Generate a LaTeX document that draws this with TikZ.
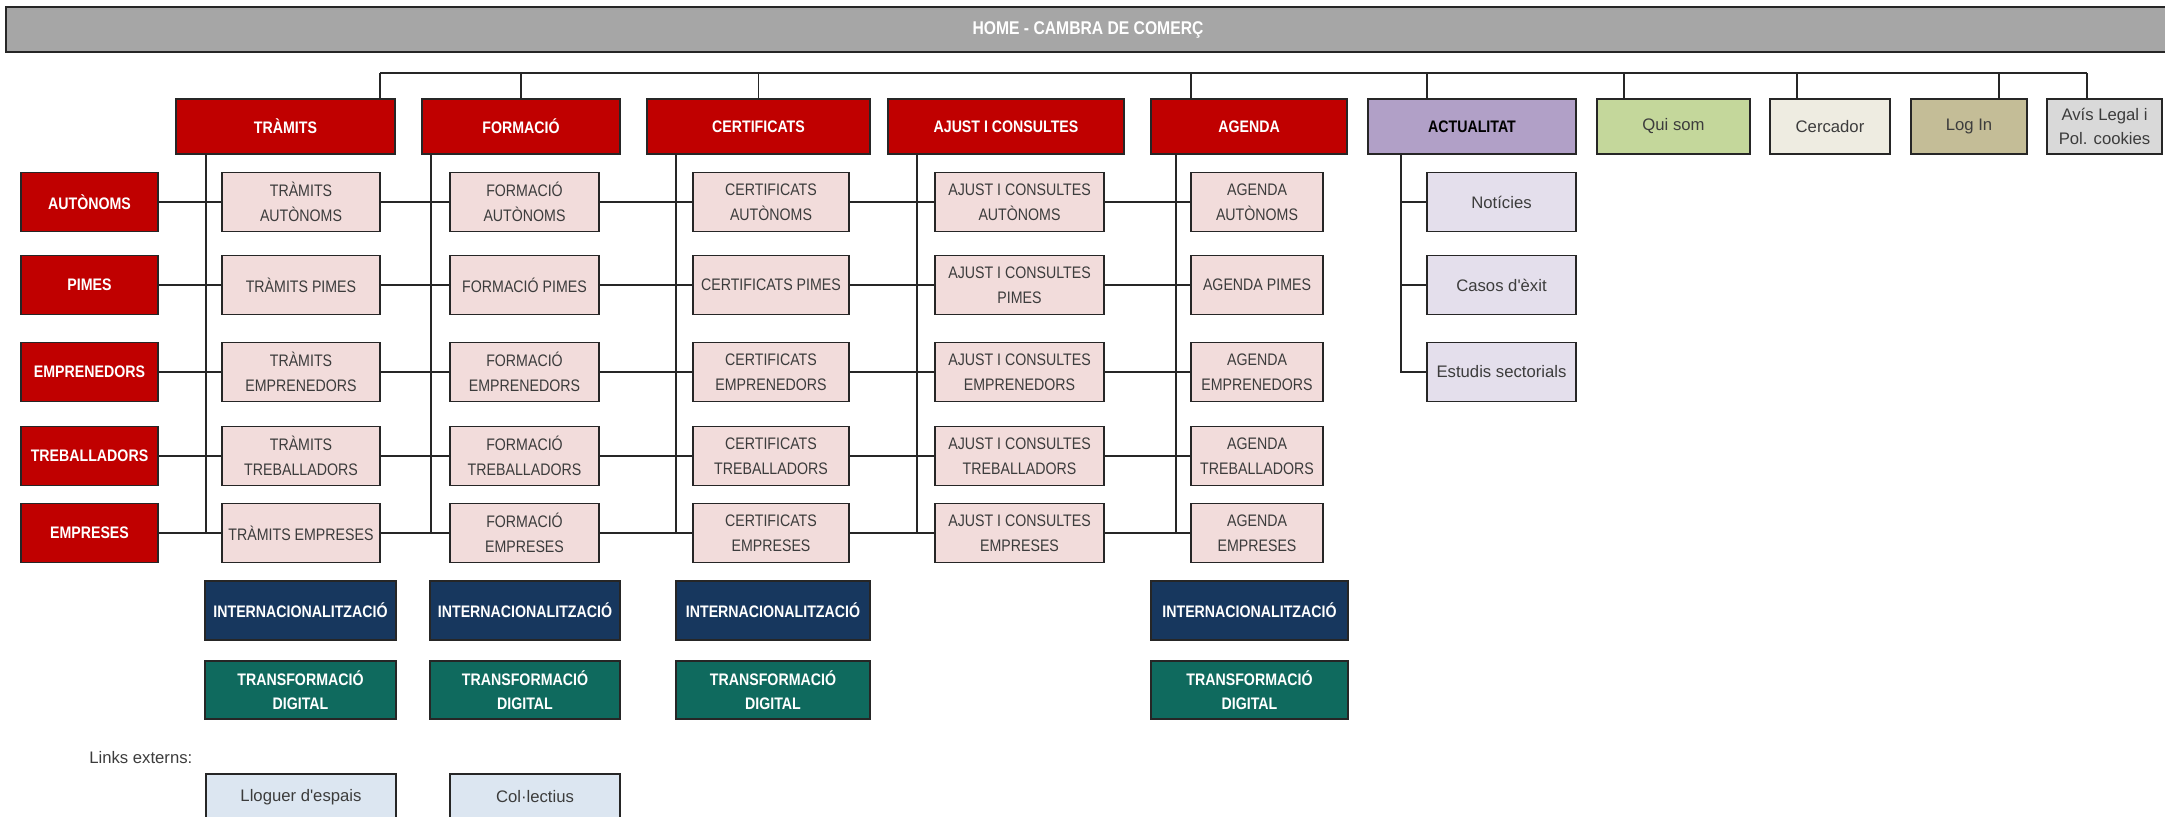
\documentclass[tikz,border=0pt]{standalone}
\usepackage{fontspec}
\setmainfont[FakeStretch=0.85]{Liberation Sans}
\newfontfamily\plainfont{Liberation Sans}
\usetikzlibrary{positioning}

\definecolor{hdrgray}{HTML}{A6A6A6}
\definecolor{camred}{HTML}{C00000}
\definecolor{subpink}{HTML}{F2DCDB}
\definecolor{actpurple}{HTML}{B1A0C7}
\definecolor{actlav}{HTML}{E4DFEC}
\definecolor{quigreen}{HTML}{C4D79B}
\definecolor{cercream}{HTML}{EEECE1}
\definecolor{loginkhaki}{HTML}{C4BD97}
\definecolor{avisgray}{HTML}{D9D9D9}
\definecolor{intnavy}{HTML}{17375E}
\definecolor{digteal}{HTML}{0F6A5E}
\definecolor{extblue}{HTML}{DCE6F1}
\definecolor{txtgray}{HTML}{3C3C3C}

\begin{document}
\begin{tikzpicture}[x=0.02cm, y=-0.02cm,
  cell/.style={draw=black!85, line width=1pt, inner sep=2pt, align=center, font=\fontsize{9.5}{14}\selectfont},
  boldcell/.style={cell, text=white, font=\fontsize{9.5}{14}\selectfont\bfseries},
  topbox/.style={boldcell, fill=camred, minimum height=1.1cm},
  rowbox/.style={boldcell, fill=camred, minimum width=2.74cm, minimum height=1.18cm},
  menubox/.style={cell, text=txtgray, font=\plainfont\fontsize{9.5}{14}\selectfont, minimum height=1.1cm},
  subbox/.style={cell, fill=subpink, text=txtgray, minimum height=1.18cm},
  colt/.style={subbox, minimum width=3.16cm},
  colf/.style={subbox, minimum width=2.98cm},
  colc/.style={subbox, minimum width=3.12cm},
  cola/.style={subbox, minimum width=3.38cm},
  colg/.style={subbox, minimum width=2.64cm},
  actbox/.style={menubox, fill=actlav, minimum width=2.98cm, minimum height=1.18cm},
  intbox/.style={boldcell, fill=intnavy, minimum height=1.18cm},
  digbox/.style={boldcell, fill=digteal, minimum height=1.16cm},
  extbox/.style={menubox, fill=extblue, minimum height=0.92cm},
  conn/.style={draw=black!85, line width=1pt}]

  \useasboundingbox (0,0) rectangle (2165,816);

  % Header bar
  \node[boldcell, fill=hdrgray, font=\fontsize{10.5}{14}\selectfont\bfseries, minimum width=43.28cm, minimum height=0.9cm] (home) at (1088,29.5) {HOME - CAMBRA DE COMERÇ};

  % Menu boxes
  \node[topbox, minimum width=4.38cm] (tram) at (285.5,126.5) {TRÀMITS};
  \node[topbox, minimum width=3.96cm] (form) at (521,126.5) {FORMACIÓ};
  \node[topbox, minimum width=4.46cm] (cert) at (758.5,126.5) {CERTIFICATS};
  \node[topbox, minimum width=4.72cm] (ajust) at (1006,126.5) {AJUST I CONSULTES};
  \node[topbox, minimum width=3.92cm] (agen) at (1249,126.5) {AGENDA};
  \node[menubox, fill=actpurple, text=black, font=\fontsize{9.5}{14}\selectfont\bfseries, minimum width=4.16cm] (act) at (1472,126.5) {ACTUALITAT};
  \node[menubox, fill=quigreen, minimum width=3.06cm] (qui) at (1673.5,126.5) {Qui som};
  \node[menubox, fill=cercream, minimum width=2.4cm] (cerc) at (1830,126.5) {Cercador};
  \node[menubox, fill=loginkhaki, minimum width=2.32cm] (login) at (1969,126.5) {Log In};
  \node[menubox, fill=avisgray, minimum width=2.3cm] (avis) at (2104.5,126.5) {Avís Legal i\\Pol. cookies};

  % Target groups
  \node[rowbox] (aut) at (89.5,202) {AUTÒNOMS};
  \node[rowbox] (pim) at (89.5,285) {PIMES};
  \node[rowbox] (emr) at (89.5,372) {EMPRENEDORS};
  \node[rowbox] (tre) at (89.5,456) {TREBALLADORS};
  \node[rowbox] (emp) at (89.5,533) {EMPRESES};

  % Tramits
  \node[colt] (t1) at (301,202) {TRÀMITS\\AUTÒNOMS};
  \node[colt] (t2) at (301,285) {TRÀMITS PIMES};
  \node[colt] (t3) at (301,372) {TRÀMITS\\EMPRENEDORS};
  \node[colt] (t4) at (301,456) {TRÀMITS\\TREBALLADORS};
  \node[colt] (t5) at (301,533) {TRÀMITS EMPRESES};

  % Formacio
  \node[colf] (f1) at (524.5,202) {FORMACIÓ\\AUTÒNOMS};
  \node[colf] (f2) at (524.5,285) {FORMACIÓ PIMES};
  \node[colf] (f3) at (524.5,372) {FORMACIÓ\\EMPRENEDORS};
  \node[colf] (f4) at (524.5,456) {FORMACIÓ\\TREBALLADORS};
  \node[colf] (f5) at (524.5,533) {FORMACIÓ\\EMPRESES};

  % Certificats
  \node[colc] (c1) at (771,202) {CERTIFICATS\\AUTÒNOMS};
  \node[colc] (c2) at (771,285) {CERTIFICATS PIMES};
  \node[colc] (c3) at (771,372) {CERTIFICATS\\EMPRENEDORS};
  \node[colc] (c4) at (771,456) {CERTIFICATS\\TREBALLADORS};
  \node[colc] (c5) at (771,533) {CERTIFICATS\\EMPRESES};

  % Ajust i consultes
  \node[cola] (a1) at (1019.5,202) {AJUST I CONSULTES\\AUTÒNOMS};
  \node[cola] (a2) at (1019.5,285) {AJUST I CONSULTES\\PIMES};
  \node[cola] (a3) at (1019.5,372) {AJUST I CONSULTES\\EMPRENEDORS};
  \node[cola] (a4) at (1019.5,456) {AJUST I CONSULTES\\TREBALLADORS};
  \node[cola] (a5) at (1019.5,533) {AJUST I CONSULTES\\EMPRESES};

  % Agenda
  \node[colg] (g1) at (1257,202) {AGENDA\\AUTÒNOMS};
  \node[colg] (g2) at (1257,285) {AGENDA PIMES};
  \node[colg] (g3) at (1257,372) {AGENDA\\EMPRENEDORS};
  \node[colg] (g4) at (1257,456) {AGENDA\\TREBALLADORS};
  \node[colg] (g5) at (1257,533) {AGENDA\\EMPRESES};

  % Actualitat
  \node[actbox] (not) at (1501.5,202) {Notícies};
  \node[actbox] (cas) at (1501.5,285) {Casos d'èxit};
  \node[actbox] (est) at (1501.5,372) {Estudis sectorials};

  % Internacionalitzacio and transformacio digital
  \node[intbox, minimum width=3.82cm] (int1) at (300.5,610.5) {INTERNACIONALITZACIÓ};
  \node[intbox, minimum width=3.8cm] (int2) at (525,610.5) {INTERNACIONALITZACIÓ};
  \node[intbox, minimum width=3.88cm] (int3) at (773,610.5) {INTERNACIONALITZACIÓ};
  \node[intbox, minimum width=3.94cm] (int4) at (1249.5,610.5) {INTERNACIONALITZACIÓ};
  \node[digbox, minimum width=3.82cm] (dig1) at (300.5,690) {TRANSFORMACIÓ\\DIGITAL};
  \node[digbox, minimum width=3.8cm] (dig2) at (525,690) {TRANSFORMACIÓ\\DIGITAL};
  \node[digbox, minimum width=3.88cm] (dig3) at (773,690) {TRANSFORMACIÓ\\DIGITAL};
  \node[digbox, minimum width=3.94cm] (dig4) at (1249.5,690) {TRANSFORMACIÓ\\DIGITAL};

  % External links
  \node[anchor=west, inner sep=0pt, text=txtgray, font=\plainfont\fontsize{9.5}{14}\selectfont] (links) at (89,758) {Links externs:};
  \node[extbox, minimum width=3.8cm] (llog) at (301,797) {Lloguer d'espais};
  \node[extbox, minimum width=3.4cm] (coll) at (535,797) {Col·lectius};

  % Bus and drops
  \coordinate (busl) at (380,73);
  \coordinate (busr) at (2087,73);
  \draw[conn] (busl) -- (busr);
  \draw[conn] (tram.north -| busl) -- (busl);
  \draw[conn] (form.north) -- (form.north |- busl);
  \draw[conn] (cert.north) -- (cert.north |- busl);
  \draw[conn] (agen.north -| 1191,0) -- (busl -| 1191,0);
  \draw[conn] (act.north -| 1427,0) -- (busl -| 1427,0);
  \draw[conn] (qui.north -| 1624,0) -- (busl -| 1624,0);
  \draw[conn] (cerc.north -| 1797,0) -- (busl -| 1797,0);
  \draw[conn] (login.north -| 1999,0) -- (busl -| 1999,0);
  \draw[conn] (avis.north -| busr) -- (busr);

  % Spines
  \draw[conn] (tram.south -| 206,0) -- (emp -| 206,0);
  \draw[conn] (form.south -| 431,0) -- (emp -| 431,0);
  \draw[conn] (cert.south -| 676,0) -- (emp -| 676,0);
  \draw[conn] (ajust.south -| 917,0) -- (emp -| 917,0);
  \draw[conn] (agen.south -| 1176,0) -- (emp -| 1176,0);
  \draw[conn] (act.south -| 1401,0) |- (est);
  \draw[conn] (not -| 1401,0) -- (not);
  \draw[conn] (cas -| 1401,0) -- (cas);

  % Rows
  \draw[conn] (aut) -- (t1) (t1) -- (f1) (f1) -- (c1) (c1) -- (a1) (a1) -- (g1);
  \draw[conn] (pim) -- (t2) (t2) -- (f2) (f2) -- (c2) (c2) -- (a2) (a2) -- (g2);
  \draw[conn] (emr) -- (t3) (t3) -- (f3) (f3) -- (c3) (c3) -- (a3) (a3) -- (g3);
  \draw[conn] (tre) -- (t4) (t4) -- (f4) (f4) -- (c4) (c4) -- (a4) (a4) -- (g4);
  \draw[conn] (emp) -- (t5) (t5) -- (f5) (f5) -- (c5) (c5) -- (a5) (a5) -- (g5);
\end{tikzpicture}
\end{document}
